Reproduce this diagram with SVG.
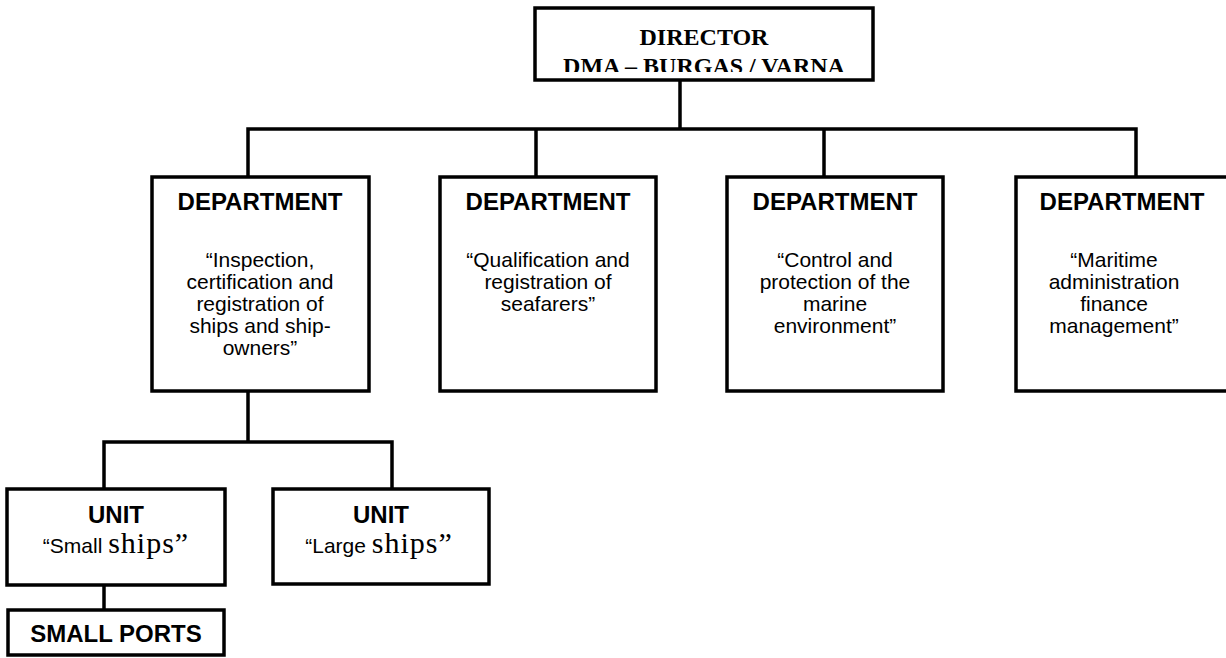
<svg xmlns="http://www.w3.org/2000/svg" width="1226" height="658" viewBox="0 0 1226 658">
<style>
.box{fill:#fff;stroke:#000;stroke-width:3.5}
.ln{fill:none;stroke:#000;stroke-width:3.5;stroke-linecap:square}
.h{font-family:"Liberation Sans",Arial,sans-serif;font-weight:bold;font-size:24px;text-anchor:middle;fill:#000}
.b{font-family:"Liberation Sans",Arial,sans-serif;font-size:21px;text-anchor:middle;fill:#000}
.dir{font-family:"Liberation Serif","Times New Roman",serif;font-weight:bold;font-size:24px;text-anchor:middle;fill:#000}
.tm{font-family:"Liberation Serif","Times New Roman",serif;font-size:30px;letter-spacing:1px}
</style>
<defs>
<clipPath id="dirclip"><rect x="535" y="8" width="338" height="64"/></clipPath>
</defs>
<g id="connectors">
<path class="ln" d="M680 80 V129 M248 129 H1136 M248 129 V177 M536 129 V177 M824 129 V177 M1136 129 V177"/>
<path class="ln" d="M248 391 V442 M104 442 H392 M104 442 V489 M392 442 V489"/>
<path class="ln" d="M104 585 V609"/>
</g>
<g id="director">
<rect class="box" x="535" y="8" width="338" height="72"/>
<g clip-path="url(#dirclip)">
<text class="dir" x="704" y="45">DIRECTOR</text>
<text class="dir" x="704" y="74">DMA – BURGAS / VARNA</text>
</g>
</g>
<g id="dept1">
<rect class="box" x="152" y="177" width="217" height="214"/>
<text class="h" x="260" y="210">DEPARTMENT</text>
<text class="b" x="260" y="267">“Inspection,</text>
<text class="b" x="260" y="289">certification and</text>
<text class="b" x="260" y="311">registration of</text>
<text class="b" x="260" y="333">ships and ship-</text>
<text class="b" x="260" y="355">owners”</text>
</g>
<g id="dept2">
<rect class="box" x="440" y="177" width="216" height="214"/>
<text class="h" x="548" y="210">DEPARTMENT</text>
<text class="b" x="548" y="267">“Qualification and</text>
<text class="b" x="548" y="289">registration of</text>
<text class="b" x="548" y="311">seafarers”</text>
</g>
<g id="dept3">
<rect class="box" x="727" y="177" width="216" height="214"/>
<text class="h" x="835" y="210">DEPARTMENT</text>
<text class="b" x="835" y="267">“Control and</text>
<text class="b" x="835" y="289">protection of the</text>
<text class="b" x="835" y="311">marine</text>
<text class="b" x="835" y="333">environment”</text>
</g>
<g id="dept4">
<rect class="box" x="1016" y="177" width="217" height="214"/>
<text class="h" x="1122" y="210">DEPARTMENT</text>
<text class="b" x="1114" y="267">“Maritime</text>
<text class="b" x="1114" y="289">administration</text>
<text class="b" x="1114" y="311">finance</text>
<text class="b" x="1114" y="333">management”</text>
</g>
<g id="unit-small">
<rect class="box" x="7" y="489" width="218" height="96"/>
<text class="h" x="116" y="523">UNIT</text>
<text class="b" x="116" y="553" font-size="22px">“Small <tspan class="tm">ships”</tspan></text>
</g>
<g id="unit-large">
<rect class="box" x="273" y="489" width="216" height="95"/>
<text class="h" x="381" y="523">UNIT</text>
<text class="b" x="379" y="553" font-size="22px">“Large <tspan class="tm">ships”</tspan></text>
</g>
<g id="small-ports">
<rect class="box" x="8" y="610" width="216" height="45"/>
<text class="h" x="116" y="642">SMALL PORTS</text>
</g>
</svg>
